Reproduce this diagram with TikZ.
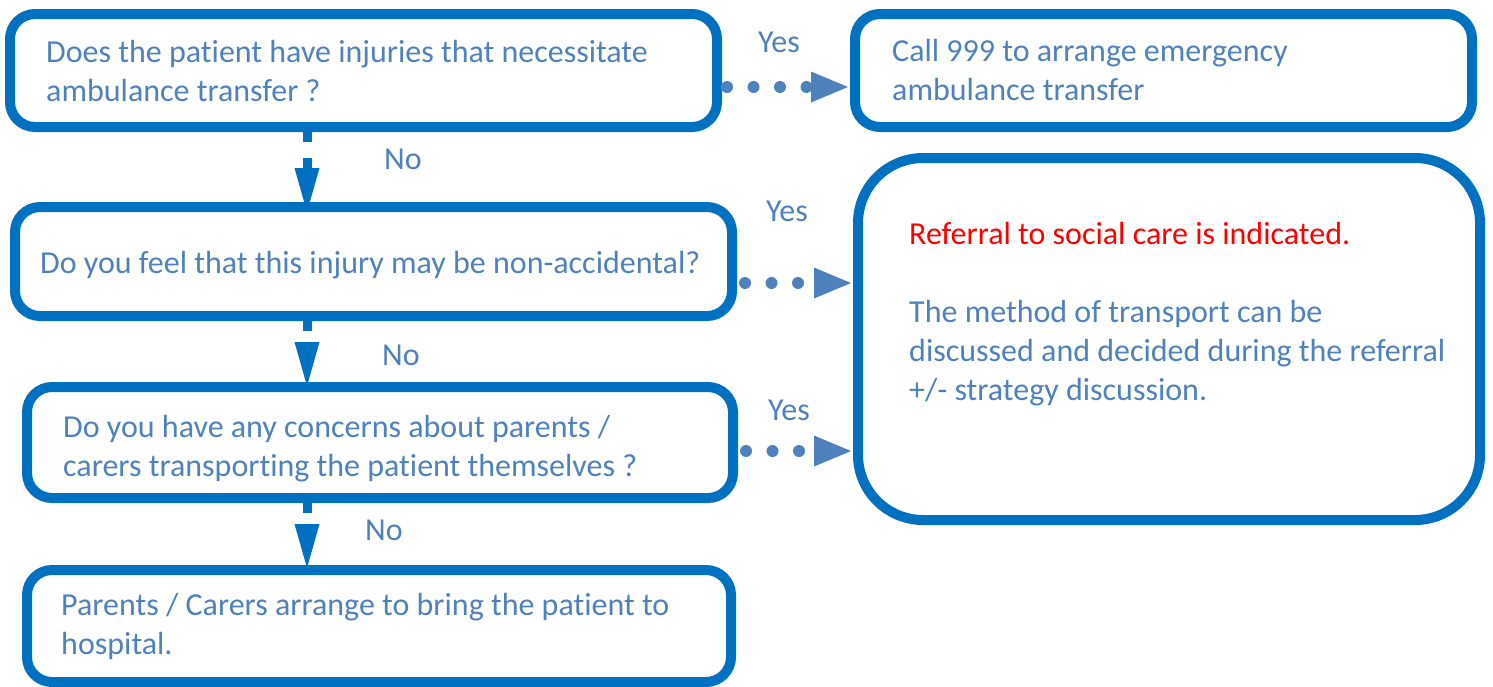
\documentclass[tikz,border=0pt]{standalone}
\usepackage{fontspec}
\setmainfont{Carlito}[Ligatures=CommonOff]
\usetikzlibrary{arrows.meta,calc}
\definecolor{boxblue}{HTML}{0070C0}
\definecolor{txtblue}{HTML}{4F81BD}
\definecolor{alertred}{HTML}{FF0000}

\begin{document}
\begin{tikzpicture}[x=1pt,y=-1pt,
  every node/.style={font=\fontsize{32}{39}\selectfont, text=txtblue},
  box/.style={draw=boxblue, line width=10pt, rounded corners=25pt, rectangle,
    inner sep=0pt},
  txt/.style={inner sep=0pt, align=left, anchor=west},
  lbl/.style={inner sep=0pt},
  yesarrow/.style={draw=txtblue, line width=12pt, line cap=round,
    dash pattern=on 0pt off 26.5pt,
    -{Triangle[length=37pt,width=31pt,line width=0pt]}},
  noarrow/.style={draw=boxblue, line width=9pt, dash pattern=on 15pt off 16pt,
    -{Triangle[length=44pt,width=25pt,line width=0pt]}}
]
\useasboundingbox (0,0) rectangle (1493,686);

% question and outcome boxes
\node[box, minimum width=707pt, minimum height=113pt] (b1) at (363.5,70.5) {};
\node[box, minimum width=617pt, minimum height=113pt] (b2) at (1163.5,70.5) {};
\node[box, minimum width=717pt, minimum height=109pt] (b3) at (373.5,261.5) {};
\node[box, minimum width=622pt, minimum height=362pt, rounded corners=65pt]
  (b4) at (1169,339) {};
\node[box, minimum width=706pt, minimum height=111pt] (b5) at (380,442.5) {};
\node[box, minimum width=704pt, minimum height=112pt] (b6) at (379,626) {};

% box texts
\node[txt] (t1) at ($(b1.west)+(41,1)$)
  {Does the patient have injuries that necessitate\\ambulance transfer ?};
\node[txt] (t2) at ($(b2.west)+(42,0)$)
  {Call 999 to arrange emergency\\ambulance transfer};
\node[txt] (t3) at ($(b3.west)+(30,4)$)
  {Do you feel that this injury may be non-accidental?};
\node[txt, anchor=north west] (t4) at ($(b4.north west)+(56,69)$)
  {{\color{alertred}Referral to social care is indicated.}\\[39pt]
   The method of transport can be\\
   discussed and decided during the referral\\
   +/- strategy discussion.};
\node[txt] (t5) at ($(b5.west)+(41,6)$)
  {Do you have any concerns about parents /\\carers transporting the patient themselves ?};
\node[txt] (t6) at ($(b6.west)+(39,0)$)
  {Parents / Carers arrange to bring the patient to\\hospital.};

% "Yes" connectors
\draw[yesarrow, shorten <=5pt, shorten >=2pt]
  ([yshift=-16.5pt]b1.east) -- ([yshift=-16.5pt]b1.east -| b2.west);
\draw[yesarrow, shorten <=8pt, shorten >=2pt]
  ([yshift=-21.5pt]b3.east) -- ([yshift=-21.5pt]b3.east -| b4.west);
\draw[yesarrow, shorten <=8pt, shorten >=2pt]
  ([yshift=-8.5pt]b5.east) -- ([yshift=-8.5pt]b5.east -| b4.west);

% "No" connectors
\draw[noarrow, shorten <=-5pt, shorten >=-10pt]
  ([xshift=-56.5pt]b1.south) -- ([xshift=-56.5pt]b1.south |- b3.north);
\draw[noarrow, shorten <=-5pt, shorten >=-4pt]
  ([xshift=-66.5pt]b3.south) -- ([xshift=-66.5pt]b3.south |- b5.north);
\draw[noarrow, shorten <=-5pt, shorten >=-3pt]
  ([xshift=-73pt]b5.south) -- ([xshift=-73pt]b5.south |- b6.north);

% connector labels
\node[lbl] (y1) at (779,42) {Yes};
\node[lbl] (y2) at (787,211) {Yes};
\node[lbl] (y3) at (789,410) {Yes};
\node[lbl] (n1) at (403,159) {No};
\node[lbl] (n2) at (401,355) {No};
\node[lbl] (n3) at (384,530) {No};
\end{tikzpicture}
\end{document}
